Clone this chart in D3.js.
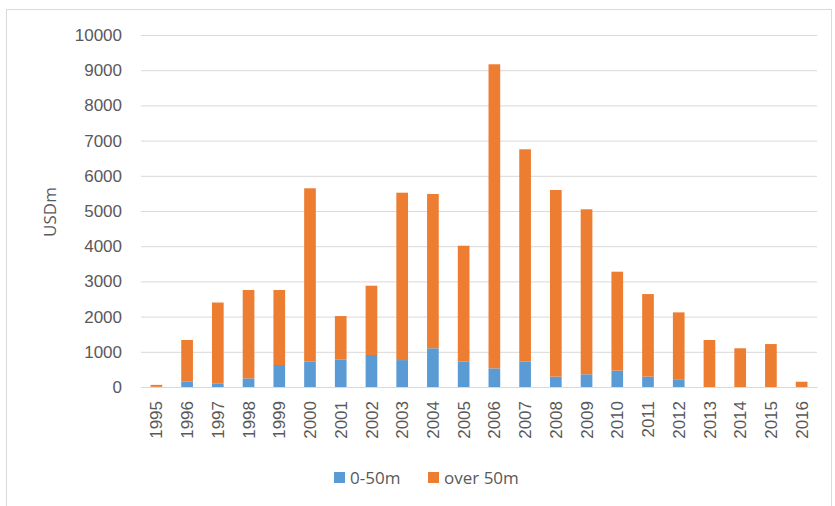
<!DOCTYPE html>
<html>
<head>
<meta charset="utf-8">
<script src="https://cdn.jsdelivr.net/npm/d3@7"></script>
<style>
  html, body { margin: 0; padding: 0; background: #fff; }
  svg { display: block; font-family: "Open Sans", "Liberation Sans", sans-serif; }
</style>
</head>
<body>
<svg id="chart" width="835" height="506"></svg>
<script>
// Deal value by year, split by deal size (USD millions)
const years = ["1995","1996","1997","1998","1999","2000","2001","2002","2003","2004","2005",
               "2006","2007","2008","2009","2010","2011","2012","2013","2014","2015","2016"];
const small = [5, 150, 105, 245, 625, 720, 785, 910, 765, 1100, 720,
               530, 720, 295, 360, 465, 295, 220, 0, 0, 0, 0];
const totals = [60, 1335, 2400, 2755, 2755, 5645, 2015, 2878, 5520, 5483, 4014,
                9168, 6753, 5597, 5048, 3276, 2640, 2120, 1335, 1100, 1220, 150];
const large = totals.map((t, i) => t - small[i]);
const seriesNames = ["0-50m", "over 50m"];
const seriesColors = ["#5B9BD5", "#ED7D31"];
const yTicks = [0, 1000, 2000, 3000, 4000, 5000, 6000, 7000, 8000, 9000, 10000];

const svg = d3.select("#chart");
const W = 835, H = 506;
const margin = { left: 141, right: 18, top: 35, bottom: 119 };
const x0 = margin.left, x1 = W - margin.right;
const yTop = margin.top, yBase = H - margin.bottom;

// outer frame (open at the bottom edge of the canvas)
svg.append("rect")
  .attr("x", 6.5).attr("y", 9.5)
  .attr("width", 825).attr("height", 510)
  .attr("fill", "#fff").attr("stroke", "#D9D9D9");

const x = d3.scaleBand().domain(years).range([x0, x1]).paddingInner(0.62).paddingOuter(0.31);
const y = d3.scaleLinear().domain([0, 10000]).range([yBase, yTop]);

// gridlines + y labels
const yAxis = svg.append("g")
  .attr("transform", `translate(${x0},0)`)
  .call(d3.axisLeft(y).tickValues(yTicks).tickSize(-(x1 - x0)).tickPadding(19).tickFormat(d3.format("d")));
yAxis.select(".domain").remove();
yAxis.selectAll(".tick line").attr("stroke", "#D9D9D9").attr("stroke-width", 1);
yAxis.selectAll(".tick text").attr("fill", "#595959").style("font-size", "17px");

// stacked bars
const rows = years.map((yr, i) => ({ year: yr, "0-50m": small[i], "over 50m": large[i] }));
const stacked = d3.stack().keys(seriesNames)(rows);
svg.append("g").selectAll("g")
  .data(stacked)
  .join("g")
  .attr("fill", (d, i) => seriesColors[i])
  .selectAll("rect")
  .data(d => d)
  .join("rect")
  .attr("x", d => x(d.data.year))
  .attr("width", x.bandwidth())
  .attr("y", d => y(d[1]))
  .attr("height", d => y(d[0]) - y(d[1]));

// category axis
const xAxis = svg.append("g")
  .attr("transform", `translate(0,${yBase})`)
  .call(d3.axisBottom(x).tickSize(0).tickPadding(0));
xAxis.select(".domain").attr("stroke", "#D9D9D9");
xAxis.selectAll(".tick text")
  .attr("fill", "#595959")
  .style("font-size", "17px")
  .attr("text-anchor", "end")
  .attr("transform", "rotate(-90)")
  .attr("x", -14)
  .attr("y", 0)
  .attr("dy", "0.36em");

// y axis title
svg.append("text")
  .attr("transform", "translate(56,212) rotate(-90)")
  .attr("text-anchor", "middle")
  .attr("fill", "#595959")
  .style("font-size", "17px")
  .text("USDm");

// legend
const legendItems = [
  { name: seriesNames[0], color: seriesColors[0], x: 334 },
  { name: seriesNames[1], color: seriesColors[1], x: 428 }
];
const lg = svg.append("g");
legendItems.forEach(it => {
  lg.append("rect").attr("x", it.x).attr("y", 472).attr("width", 11).attr("height", 11).attr("fill", it.color);
  lg.append("text").attr("x", it.x + 16).attr("y", 484)
    .attr("fill", "#595959").style("font-size", "17px").text(it.name);
});
</script>
</body>
</html>
